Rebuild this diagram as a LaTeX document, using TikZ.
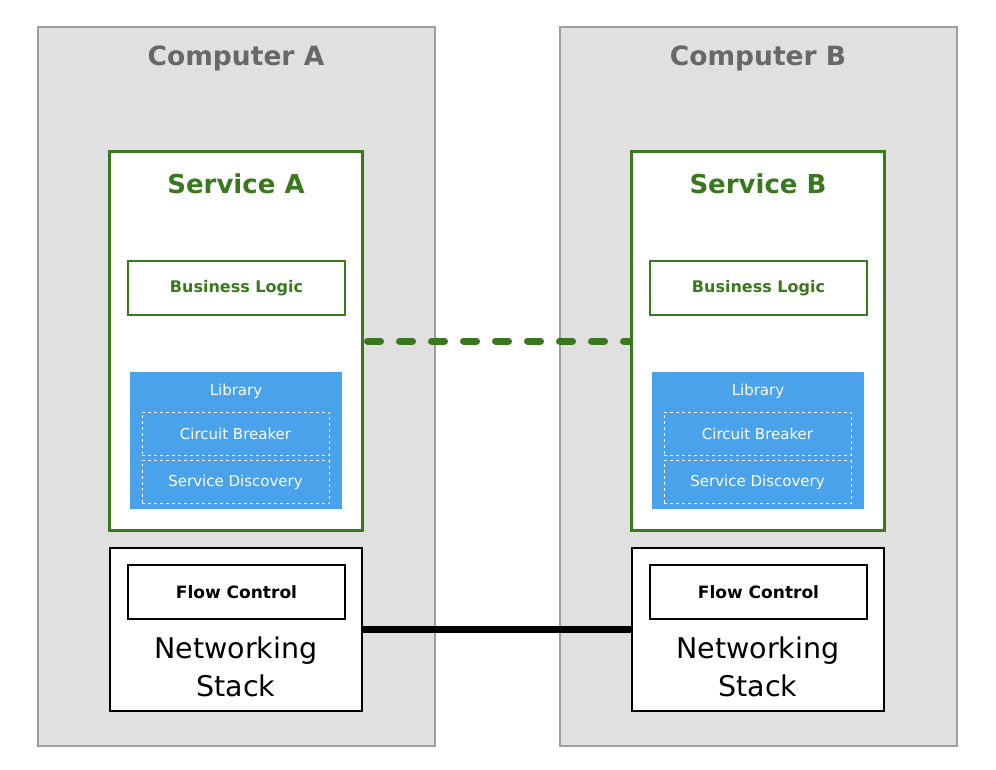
\documentclass[tikz,border=0pt]{standalone}
\usepackage{fontspec}
\setmainfont{DejaVu Sans}
\usepackage{tikz}
\usetikzlibrary{positioning,calc}

\definecolor{compgray}{RGB}{224,224,224}
\definecolor{compedge}{RGB}{158,158,158}
\definecolor{titlegray}{RGB}{104,104,104}
\definecolor{svcgreen}{RGB}{58,120,30}
\definecolor{libblue}{RGB}{74,163,234}

\tikzset{
  computer/.style={draw=compedge, fill=compgray, line width=1.5pt, minimum width=397pt, minimum height=719pt, inner sep=0pt},
  comptitle/.style={text=titlegray, font=\bfseries\fontsize{26.5}{32}\selectfont},
  service/.style={draw=svcgreen, fill=white, line width=3pt, minimum width=253pt, minimum height=378pt, inner sep=0pt},
  svctitle/.style={text=svcgreen, font=\bfseries\fontsize{26}{32}\selectfont},
  logic/.style={draw=svcgreen, fill=white, line width=1.2pt, minimum width=217pt, minimum height=54pt, inner sep=0pt, text=svcgreen, font=\bfseries\fontsize{16}{20}\selectfont},
  library/.style={fill=libblue, minimum width=212pt, minimum height=137pt, inner sep=0pt},
  libtitle/.style={text=white, font=\fontsize{15}{18}\selectfont},
  libpart/.style={draw=white, dashed, line width=1pt, minimum width=187pt, minimum height=43pt, inner sep=0pt, text=white, font=\fontsize{15}{18}\selectfont},
  netstack/.style={draw=black, fill=white, line width=1.5pt, minimum width=252pt, minimum height=163pt, inner sep=0pt},
  flowbox/.style={draw=black, line width=1.2pt, minimum width=217pt, minimum height=54pt, inner sep=0pt, font=\bfseries\fontsize{17}{20}\selectfont},
  nettext/.style={align=center, font=\fontsize{28.5}{38}\selectfont}
}

\begin{document}
\begin{tikzpicture}[x=1pt,y=-1pt]
\useasboundingbox (0,0) rectangle (996,770);

% computer A
\node[computer] (compA) at (236.5,386.5) {};
\node[comptitle] (compAtitle) at (236,58) {Computer A};
\node[service] (svcA) at (235.5,341) {};
\node[svctitle] (svcAtitle) at (236,184) {Service A};
\node[logic] (logicA) at (236.5,288) {Business Logic};
\node[library] (libA) at (236,440.5) {};
\node[libtitle] (libAtitle) at (236,391) {Library};
\node[libpart] (cbA) at (235.5,433.5) {Circuit Breaker};
\node[libpart] (sdA) at (235.5,482) {Service Discovery};
\node[netstack] (netA) at (236,629.5) {};
\node[flowbox] (flowA) at (236.5,592) {Flow Control};
\node[nettext] (netAtext) at (236,667) {Networking\\Stack};

% computer B
\node[computer] (compB) at (758.5,386.5) {};
\node[comptitle] (compBtitle) at (758,58) {Computer B};
\node[service] (svcB) at (757.5,341) {};
\node[svctitle] (svcBtitle) at (758,184) {Service B};
\node[logic] (logicB) at (758.5,288) {Business Logic};
\node[library] (libB) at (758,440.5) {};
\node[libtitle] (libBtitle) at (758,391) {Library};
\node[libpart] (cbB) at (757.5,433.5) {Circuit Breaker};
\node[libpart] (sdB) at (757.5,482) {Service Discovery};
\node[netstack] (netB) at (758,629.5) {};
\node[flowbox] (flowB) at (758.5,592) {Flow Control};
\node[nettext] (netBtext) at (758,667) {Networking\\Stack};

% links
\draw[svcgreen, line width=7pt, line cap=round, dash pattern=on 13pt off 19pt] ([xshift=4pt]svcA.east) -- (svcB.west);
\draw[black, line width=7pt] (netA.east) -- (netB.west);
\end{tikzpicture}
\end{document}
